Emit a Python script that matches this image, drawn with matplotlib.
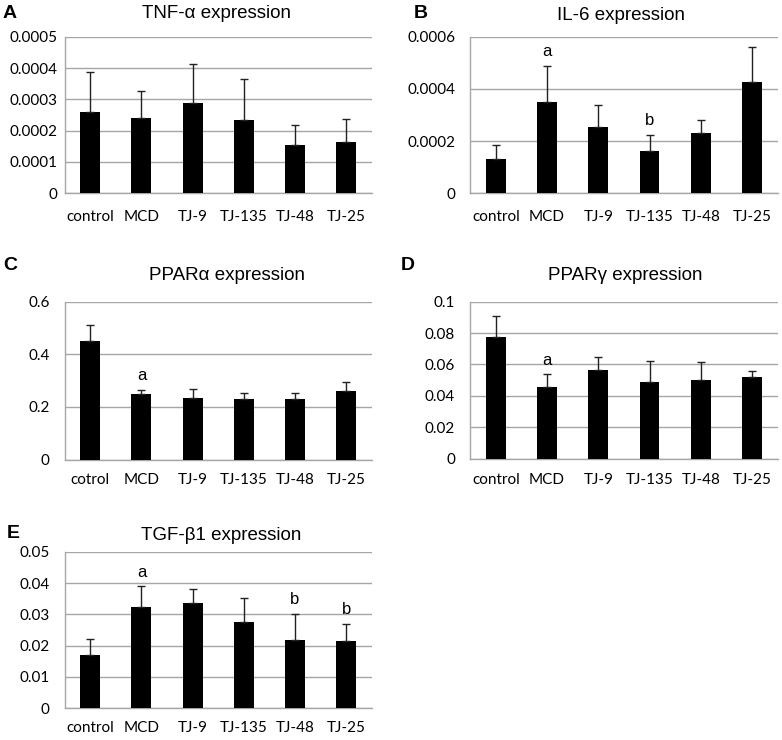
import matplotlib
matplotlib.use("Agg")
import matplotlib.pyplot as plt
from matplotlib.ticker import MultipleLocator, FuncFormatter

groups = ["control", "MCD", "TJ-9", "TJ-135", "TJ-48", "TJ-25"]
groups_c = ["cotrol", "MCD", "TJ-9", "TJ-135", "TJ-48", "TJ-25"]

tnf_mean = [0.000260, 0.000241, 0.000287, 0.000233, 0.000155, 0.000163]
tnf_err = [0.000128, 0.000086, 0.000125, 0.000133, 0.000064, 0.000074]

il6_mean = [0.000132, 0.000350, 0.000254, 0.000163, 0.000231, 0.000425]
il6_err = [0.000052, 0.000138, 0.000084, 0.000059, 0.000049, 0.000136]

ppara_mean = [0.450, 0.250, 0.234, 0.229, 0.229, 0.259]
ppara_err = [0.061, 0.016, 0.035, 0.022, 0.023, 0.035]

pparg_mean = [0.0772, 0.0455, 0.0566, 0.0487, 0.0498, 0.0519]
pparg_err = [0.0134, 0.0081, 0.0083, 0.0134, 0.0117, 0.0041]

tgf_mean = [0.0171, 0.0323, 0.0336, 0.0274, 0.0217, 0.0214]
tgf_err = [0.0049, 0.0066, 0.0044, 0.0077, 0.0084, 0.0054]

W, H = 782, 740
TICK_FONT = "Lato"
TITLE_FONT = "Liberation Sans"

# (letter, title, labels, mean, err, ymax, ystep, sig marks,
#  axes px [left, top, right, bottom], title xy px, letter xy px, ytick pad, xtick pad)
panels = [
    ("A", "TNF-\u03b1 expression", groups, tnf_mean, tnf_err, 0.0005, 0.0001, [],
     [64.7, 36.7, 371.7, 193.3], (217, 14), (3, 13), 5, 12),
    ("B", "IL-6 expression", groups, il6_mean, il6_err, 0.0006, 0.0002, [(1, "a"), (3, "b")],
     [470.3, 36.7, 777.5, 193.3], (621, 15), (414, 13), 11, 12),
    ("C", "PPAR\u03b1 expression", groups_c, ppara_mean, ppara_err, 0.6, 0.2, [(1, "a")],
     [64.7, 301.7, 371.7, 459.5], (227, 275), (3, 265), 11, 9.5),
    ("D", "PPAR\u03b3 expression", groups, pparg_mean, pparg_err, 0.1, 0.02, [(1, "a")],
     [470.3, 301.7, 777.5, 458.5], (625, 275), (401, 265), 11, 10.5),
    ("E", "TGF-\u03b21 expression", groups, tgf_mean, tgf_err, 0.05, 0.01, [(1, "a"), (4, "b"), (5, "b")],
     [64.7, 551.7, 371.7, 708.3], (221, 535), (7, 533), 11, 9.5),
]

fig = plt.figure(figsize=(W / 100, H / 100), dpi=100)

for letter, title, labels, mean, err, ymax, ystep, marks, box, tpos, lpos, ypad, xpad in panels:
    l, t, r, b = box
    ax = fig.add_axes([l / W, 1 - b / H, (r - l) / W, (b - t) / H])
    x = range(len(labels))
    ax.bar(x, mean, width=0.39, color="black", zorder=3)
    ax.errorbar(x, mean, yerr=[[0] * len(err), err], fmt="none", ecolor="#222222",
                elinewidth=1, capsize=3, capthick=1, zorder=4)
    ax.set_xlim(-0.5, len(labels) - 0.5)
    ax.set_ylim(0, ymax)
    ax.yaxis.set_major_locator(MultipleLocator(ystep))
    ax.yaxis.set_major_formatter(FuncFormatter(lambda v, p: "0" if abs(v) < 1e-12 else "%g" % v))
    ax.set_xticks(list(x))
    ax.set_xticklabels(labels, fontfamily=TICK_FONT, fontsize=11)
    for tl in ax.get_yticklabels():
        tl.set_fontfamily(TICK_FONT)
        tl.set_fontsize(11)
    ax.tick_params(axis="both", length=0, colors="black")
    ax.tick_params(axis="x", pad=xpad)
    ax.tick_params(axis="y", pad=ypad)
    ax.grid(axis="y", color="#a6a6a6", linewidth=1)
    ax.set_axisbelow(True)
    for s in ["top", "right"]:
        ax.spines[s].set_visible(False)
    for s in ["left", "bottom"]:
        ax.spines[s].set_color("#a6a6a6")
        ax.spines[s].set_linewidth(1)
    for i, m in marks:
        ax.annotate(m, (i, mean[i] + err[i]), xytext=(0, 5), textcoords="offset points",
                    ha="center", va="bottom", fontfamily=TITLE_FONT, fontsize=12)
    fig.text(tpos[0] / W, 1 - tpos[1] / H, title, ha="center", va="center",
             fontfamily=TITLE_FONT, fontsize=13.5)
    fig.text(lpos[0] / W, 1 - lpos[1] / H, letter, ha="left", va="center",
             fontfamily=TITLE_FONT, fontsize=14, fontweight="bold")

fig.savefig("out.png", dpi=100, facecolor="white")
